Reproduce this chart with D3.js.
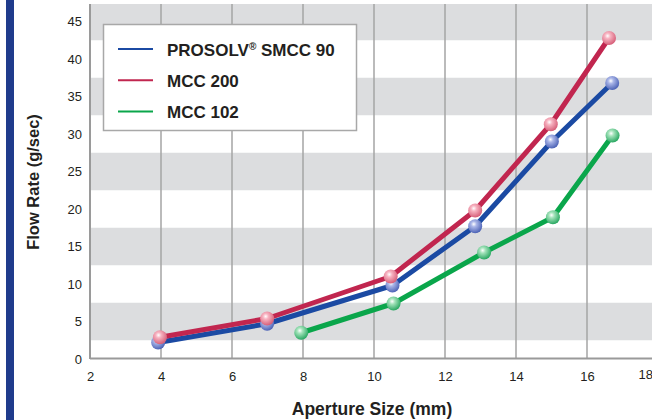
<!DOCTYPE html>
<html>
<head>
<meta charset="utf-8">
<script src="https://cdn.jsdelivr.net/npm/d3@7"></script>
<style>
  body { margin: 0; background: #fff; }
  svg text { font-family: "Liberation Sans", Arial, sans-serif; fill: #231f20; }
</style>
</head>
<body>
<div id="chart"></div>
<script>
let width = 652
  , height = 420
  , plotLeft = 90
  , plotTop = 4
  , plotRight = 658
  , plotBottom = 359;

// data
let xTicks = [2, 4, 6, 8, 10, 12, 14, 16, 18];
let yTicks = [0, 5, 10, 15, 20, 25, 30, 35, 40, 45];
let bandCenters = [5, 15, 25, 35, 45];

let smccX = [3.92, 6.99, 10.52, 12.85, 15.01, 16.71];
let smccY = [2.2, 4.7, 9.8, 17.7, 29.0, 36.8];
let mcc200X = [3.97, 6.99, 10.47, 12.85, 14.98, 16.62];
let mcc200Y = [2.9, 5.4, 11.0, 19.8, 31.3, 42.8];
let mcc102X = [7.95, 10.55, 13.1, 15.04, 16.72];
let mcc102Y = [3.5, 7.4, 14.2, 18.9, 29.8];

let seriesNames = ['PROSOLV® SMCC 90', 'MCC 200', 'MCC 102'];
let lineColors = ['#1b4aa3', '#c1264f', '#0aa64b'];
let ballLight = ['#aab6e8', '#f7b3c1', '#a4e3bb'];
let ballDark = ['#4d63b6', '#d65f79', '#2aa862'];

let series = [
  {name: seriesNames[0], x: smccX, y: smccY},
  {name: seriesNames[1], x: mcc200X, y: mcc200Y},
  {name: seriesNames[2], x: mcc102X, y: mcc102Y}
];

let x = d3.scaleLinear().domain([2, 18]).range([plotLeft, plotRight]);
let y = d3.scaleLinear().domain([0, 45]).range([plotBottom, plotBottom - 45 * 7.5]);

let svg = d3.select('#chart').append('svg').attr('width', width).attr('height', height);

let defs = svg.append('defs');
defs.append('clipPath').attr('id', 'plotClip').append('rect')
  .attr('x', plotLeft).attr('y', plotTop).attr('width', plotRight - plotLeft).attr('height', plotBottom - plotTop);

series.forEach((s, i) => {
  let g = defs.append('radialGradient').attr('id', 'ball' + i)
    .attr('cx', '0.4').attr('cy', '0.35').attr('r', '0.65');
  g.append('stop').attr('offset', '0%').attr('stop-color', '#ffffff');
  g.append('stop').attr('offset', '30%').attr('stop-color', ballLight[i]);
  g.append('stop').attr('offset', '100%').attr('stop-color', ballDark[i]);
});

// left blue bar
svg.append('rect').attr('x', 6).attr('y', 0).attr('width', 8).attr('height', height).attr('fill', '#1f3b8c');

let plot = svg.append('g').attr('clip-path', 'url(#plotClip)');

// gray bands
plot.selectAll('rect.band').data(bandCenters).enter().append('rect')
  .attr('class', 'band')
  .attr('x', plotLeft).attr('width', plotRight - plotLeft)
  .attr('y', d => y(d + 2.5)).attr('height', d => y(d - 2.5) - y(d + 2.5))
  .attr('fill', '#dcdddf');

// vertical grid
plot.selectAll('line.grid').data(xTicks.slice(1)).enter().append('line')
  .attr('class', 'grid')
  .attr('x1', d => x(d)).attr('x2', d => x(d))
  .attr('y1', plotTop).attr('y2', plotBottom)
  .attr('stroke', '#a5a5a5').attr('stroke-width', 1.5);

// axes lines
svg.append('line').attr('x1', plotLeft).attr('x2', width).attr('y1', plotBottom - 0.5).attr('y2', plotBottom - 0.5)
  .attr('stroke', '#9a9a9a').attr('stroke-width', 2);
svg.append('line').attr('x1', plotLeft).attr('x2', plotLeft).attr('y1', plotTop).attr('y2', plotBottom)
  .attr('stroke', '#9a9a9a').attr('stroke-width', 2);

// tick labels
let xAxis = svg.append('g').attr('transform', `translate(0,${plotBottom})`)
  .call(d3.axisBottom(x).tickValues(xTicks).tickSize(0).tickPadding(13).tickFormat(d3.format('d')));
xAxis.select('.domain').remove();
xAxis.selectAll('text').attr('font-size', 13).attr('fill', '#333')
  .style('font-family', '"Liberation Sans", Arial, sans-serif');
// last label sits at the page edge, nudged in like the original
xAxis.selectAll('.tick').filter(d => d === 18).select('text')
  .attr('text-anchor', 'start').attr('x', -20).attr('dy', '0.5em');

let yAxis = svg.append('g').attr('transform', `translate(${plotLeft},0)`)
  .call(d3.axisLeft(y).tickValues(yTicks).tickSize(0).tickPadding(8));
yAxis.select('.domain').remove();
yAxis.selectAll('text').attr('font-size', 13).attr('fill', '#333')
  .style('font-family', '"Liberation Sans", Arial, sans-serif');

// lines
let line = d3.line().x(d => x(d[0])).y(d => y(d[1]));
series.forEach((s, i) => {
  let pts = s.x.map((v, k) => [v, s.y[k]]);
  svg.append('path').datum(pts).attr('d', line)
    .attr('fill', 'none').attr('stroke', lineColors[i]).attr('stroke-width', 5)
    .attr('stroke-linejoin', 'round');
});
series.forEach((s, i) => {
  let pts = s.x.map((v, k) => [v, s.y[k]]);
  svg.selectAll('circle.b' + i).data(pts).enter().append('circle')
    .attr('class', 'b' + i)
    .attr('cx', d => x(d[0])).attr('cy', d => y(d[1])).attr('r', 7)
    .attr('fill', `url(#ball${i})`);
});

// legend
let legend = svg.append('g');
legend.append('rect').attr('x', 103.5).attr('y', 24.5).attr('width', 253).attr('height', 106)
  .attr('fill', '#fff').attr('stroke', '#a8a8a8').attr('stroke-width', 1.5);
series.forEach((s, i) => {
  let ly = 49 + i * 31.3;
  legend.append('line').attr('x1', 118).attr('x2', 153).attr('y1', ly).attr('y2', ly)
    .attr('stroke', lineColors[i]).attr('stroke-width', 2);
  let t = legend.append('text').attr('x', 167).attr('y', ly + 6.5)
    .attr('font-size', 17).attr('font-weight', 'bold');
  if (s.name.indexOf('®') > -1) {
    let parts = s.name.split('®');
    t.append('tspan').text(parts[0]);
    t.append('tspan').text('®').attr('font-size', 10).attr('dy', -6);
    t.append('tspan').text(parts[1]).attr('dy', 6);
  } else {
    t.text(s.name);
  }
});

// axis titles
svg.append('text').attr('x', 372).attr('y', 415).attr('text-anchor', 'middle')
  .attr('font-size', 17.5).attr('font-weight', 'bold').text('Aperture Size (mm)');
svg.append('text').attr('transform', 'translate(39,182) rotate(-90)').attr('text-anchor', 'middle')
  .attr('font-size', 16.5).attr('font-weight', 'bold').text('Flow Rate (g/sec)');
</script>
</body>
</html>
